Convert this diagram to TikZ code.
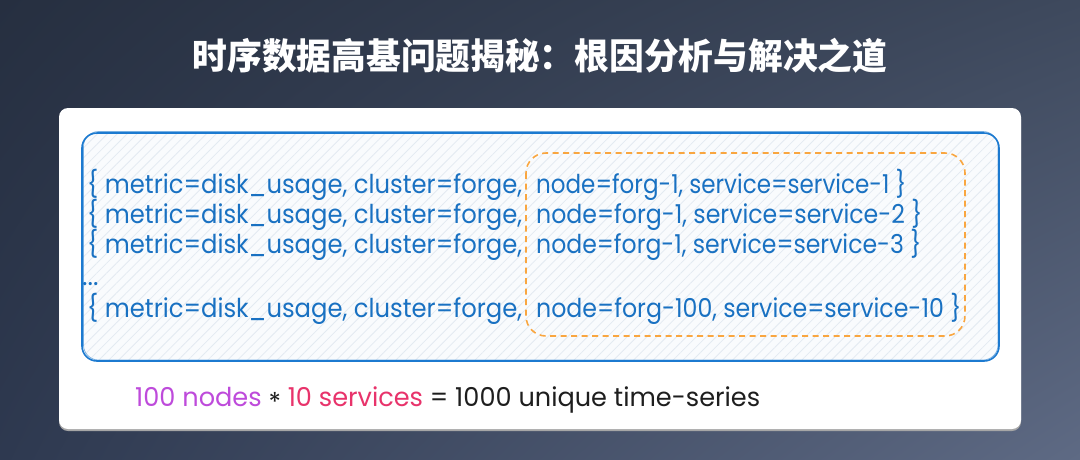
\documentclass[tikz,border=0pt]{standalone}
\usepackage{fontspec}
\usepackage{graphicx}
\usetikzlibrary{patterns.meta,shadings}
\setmainfont{Poppins}
\newfontfamily\cjk{Noto Sans CJK SC}
\definecolor{bgUL}{HTML}{262F40}
\definecolor{bgUR}{HTML}{3E495D}
\definecolor{bgLL}{HTML}{2E3950}
\definecolor{bgLR}{HTML}{5E6A84}
\definecolor{blueS}{HTML}{1C7AD0}
\definecolor{blueT}{HTML}{1971C2}
\definecolor{boxbg}{HTML}{F9FBFD}
\definecolor{hatch}{HTML}{E3EAF1}
\definecolor{orangeS}{HTML}{F9A640}
\definecolor{purp}{HTML}{BE4BDB}
\definecolor{pinkr}{HTML}{E8336B}
\definecolor{ink}{HTML}{1E1E1E}
\tikzset{
  codeline/.style={anchor=base west, inner sep=0pt, text=blueT, font=\fontsize{26}{26}\selectfont},
  sketchbox/.style={draw=blueS, line width=1.6pt, rounded corners=15pt},
  groupbox/.style={draw=orangeS, line width=1.6pt, dash pattern=on 6pt off 4.5pt, rounded corners=20pt},
}
\newcommand{\leftpart}{\resizebox{435pt}{\height}{\{ metric=disk\_usage, cluster=forge,}}
\begin{document}
\begin{tikzpicture}[x=1pt,y=-1pt]
\useasboundingbox (0,0) rectangle (1080,459);
\shade[upper left=bgUL, upper right=bgUR, lower left=bgLL, lower right=bgLR] (0,0) rectangle (1080,459);
% title
\node[text=white, inner sep=0pt, font=\cjk\bfseries\fontsize{36}{36}\selectfont] (title) at (540,56)
  {\resizebox{695pt}{\height}{时序数据高基问题揭秘：根因分析与解决之道}};
% card
\fill[black!35, rounded corners=9pt] (59,110.5) rectangle (1021,431);
\fill[white, rounded corners=9pt] (59,108) rectangle (1021,429);
% blue sketch box
\fill[boxbg, rounded corners=15pt] (82,133) rectangle (999,361);
\fill[pattern={Lines[angle=45,distance=7pt,line width=0.8pt]}, pattern color=hatch, rounded corners=15pt] (82,133) rectangle (999,361);
\draw[sketchbox] (82,133) rectangle (999,361);
\draw[sketchbox, line width=0.7pt, draw opacity=0.6] (83.5,131.5) rectangle (998,360);
% orange dashed group
\draw[groupbox] (526,153) rectangle (965,336);
% code lines
\node[codeline] (l1a) at (87,193) {\leftpart};
\node[codeline] (l1b) at (536,193) {\resizebox{370pt}{\height}{node=forg-1, service=service-1 \}}};
\node[codeline] (l2a) at (87,223) {\leftpart};
\node[codeline] (l2b) at (536,223) {\resizebox{386pt}{\height}{node=forg-1, service=service-2 \}}};
\node[codeline] (l3a) at (87,253) {\leftpart};
\node[codeline] (l3b) at (536,253) {\resizebox{385pt}{\height}{node=forg-1, service=service-3 \}}};
\node[codeline] (dots) at (82,285) {...};
\node[codeline] (l5a) at (87,317) {\leftpart};
\node[codeline] (l5b) at (536,317) {\resizebox{425pt}{\height}{node=forg-100, service=service-10 \}}};
% summary
\node[anchor=base west, inner sep=0pt, text=ink, font=\fontsize{26}{26}\selectfont] (sum) at (135,406)
  {\resizebox{625pt}{\height}{\textcolor{purp}{100 nodes} \raisebox{-0.22em}{*} \textcolor{pinkr}{10 services} = 1000 unique time-series}};
\end{tikzpicture}
\end{document}
